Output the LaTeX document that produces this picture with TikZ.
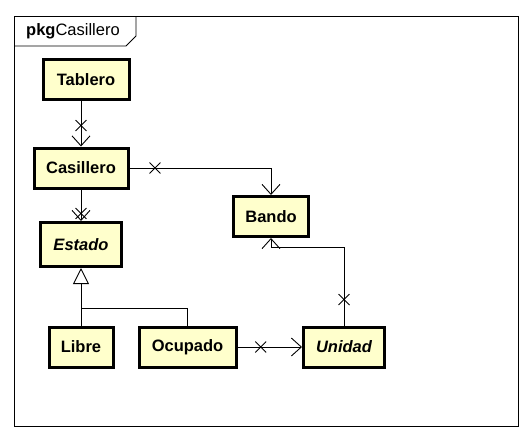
\documentclass[tikz,border=0pt]{standalone}
\usepackage{fontspec}
\setmainfont{Liberation Sans}
\usepackage{xcolor}
\usetikzlibrary{arrows.meta,shapes.misc}

\definecolor{classfill}{RGB}{255,255,204}

\tikzset{
  cls/.style={draw, line width=3pt, fill=classfill, minimum height=40pt,
    font=\fontsize{16.5}{18}\selectfont\bfseries, inner sep=2pt},
  abstractcls/.style={cls, font=\fontsize{16.5}{18}\selectfont\bfseries\itshape},
  assoc/.style={line width=0.9pt, -{Straight Barb[length=10pt,width=18pt,line width=0.9pt]}},
  gen/.style={line width=0.9pt, -{Triangle[open,length=16pt,width=16pt,fill=white,line width=0.9pt]}},
  xmark/.style={cross out, draw, line width=0.9pt, minimum size=10pt, inner sep=0pt}
}

\begin{document}
\begin{tikzpicture}[x=1pt,y=-1pt]
\useasboundingbox (0,0) rectangle (530,440);

% package frame
\draw[line width=0.9pt] (14,16) rectangle (518,426);
\draw[line width=0.9pt] (14,46) -- (126,46) -- (136,36) -- (136,16);
\node[anchor=west, inner sep=0pt, font=\fontsize{16.5}{18}\selectfont] (pkglabel) at (26,31) {\textbf{pkg}Casillero};

% classes
\node[cls, minimum width=86pt] (tablero) at (86,79.5) {Tablero};
\node[cls, minimum width=94pt] (casillero) at (81,168) {Casillero};
\node[abstractcls, minimum width=81pt, minimum height=44pt] (estado) at (81,244.5) {Estado};
\node[cls, minimum width=75pt] (bando) at (271,216.5) {Bando};
\node[cls, minimum width=64pt] (libre) at (81,347) {Libre};
\node[cls, minimum width=97pt] (ocupado) at (187.5,347) {Ocupado};
\node[abstractcls, minimum width=81pt] (unidad) at (344,347) {Unidad};

\coordinate (genjoin) at (81,308);
\coordinate (bandoturn) at (344,247);

% associations
\draw[assoc] (casillero.north |- tablero.south) -- node[xmark, pos=0.54] {} (casillero.north);
\draw[assoc] (casillero.south) -- node[xmark, pos=0.76] {} (estado.north);
\draw[assoc] (casillero.east) -| node[xmark, pos=0.09] {} (bando.north);
\draw[assoc] (unidad.north) -- node[xmark, pos=0.33] {} (bandoturn) -| (bando.south);
\draw[assoc] (ocupado.east) -- node[xmark, pos=0.36] {} (unidad.west);

% generalization
\draw[line width=0.9pt] (ocupado.north) |- (genjoin);
\draw[gen] (libre.north) -- (estado.south);
\end{tikzpicture}
\end{document}
